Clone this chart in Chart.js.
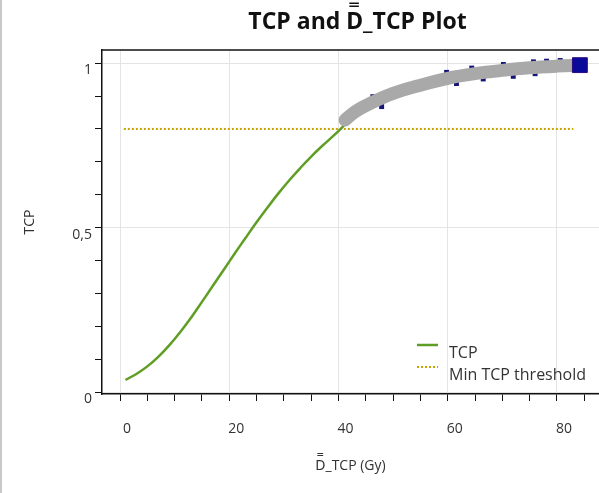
<!DOCTYPE html>
<html>
<head>
<meta charset="utf-8">
<script src="https://cdn.jsdelivr.net/npm/chart.js@4.4.1/dist/chart.umd.min.js"></script>
<style>
  html, body { margin: 0; padding: 0; background: #fff; }
  #wrap { width: 599px; height: 493px; }
</style>
</head>
<body>
<div id="wrap"><canvas id="tcp-chart" width="599" height="493"></canvas></div>
<script>
// TCP curve (green)
const tcpDose = [1, 3, 5, 7, 9, 11, 13, 15, 17, 19, 21, 23, 25, 27, 29, 31, 33, 35, 37, 39, 41];
const tcpValues = [0.037, 0.055, 0.078, 0.107, 0.142, 0.182, 0.226, 0.274, 0.323, 0.372, 0.421, 0.469, 0.516, 0.561, 0.604, 0.644, 0.681, 0.716, 0.748, 0.778, 0.81];

// grey band of candidate plans above threshold
const bandDose = [41.2, 43, 46, 50, 55, 60, 65, 70, 75, 80, 84.2];
const bandValues = [0.827, 0.852, 0.879, 0.908, 0.933, 0.954, 0.968, 0.978, 0.986, 0.991, 0.994];

// small dark-blue markers peeking out of the band
const markerDose = [41.2, 46.3, 47.9, 59.8, 61.6, 64.4, 66.5, 70.2, 72.0, 75.7, 76.0, 78.1, 80.6];
const markerValues = [0.827, 0.898, 0.868, 0.972, 0.938, 0.985, 0.952, 0.996, 0.96, 1.004, 0.968, 1.006, 1.008];

// selected point (big square)
const bestDose = [84.2];
const bestValues = [0.994];

// minimum TCP threshold line
const thresholdDose = [0.7, 83];
const thresholdValue = 0.8;

const titleText = 'TCP and D\u033F_TCP Plot';
const xTitle = 'D\u033F_TCP (Gy)';
const yTitle = 'TCP';
const legendLabels = ['TCP', 'Min TCP threshold'];

const tcpColor = '#5f9e24';
const thresholdColor = '#c8a200';
const fontFamily = '"Open Sans", "Noto Sans", sans-serif';

function toXY(xs, ys) {
    return xs.map((x, i) => ({ x: x, y: Array.isArray(ys) ? ys[i] : ys }));
}

// no inner padding on the scales, so the plot box fills the canvas edge to edge
function noScalePadding(scale) {
    scale.paddingLeft = 0;
    scale.paddingRight = 0;
    scale.paddingTop = 0;
    scale.paddingBottom = 0;
}

const decorPlugin = {
    id: 'decor',
    beforeDraw(chart) {
        const ctx = chart.ctx;
        ctx.save();
        ctx.fillStyle = '#fff';
        ctx.fillRect(0, 0, chart.width, chart.height);
        ctx.fillStyle = '#c9c9c9';
        ctx.fillRect(0, 0, 2, chart.height);
        ctx.restore();
    },
    afterDraw(chart) {
        const ctx = chart.ctx;
        const a = chart.chartArea;
        ctx.save();
        // top border of the plot box
        ctx.strokeStyle = '#111';
        ctx.lineWidth = 1.5;
        ctx.beginPath();
        ctx.moveTo(a.left, a.top);
        ctx.lineTo(a.right, a.top);
        ctx.stroke();

        // title
        ctx.fillStyle = '#111';
        ctx.font = 'bold 23px ' + fontFamily;
        ctx.textAlign = 'center';
        ctx.textBaseline = 'middle';
        ctx.fillText(titleText, (a.left + a.right) / 2 + 7, 22);

        // legend inside the plot
        const lx = a.right - 182;
        const rows = [a.bottom - 49, a.bottom - 27];
        ctx.lineWidth = 2.5;
        ctx.strokeStyle = tcpColor;
        ctx.beginPath();
        ctx.moveTo(lx, rows[0]);
        ctx.lineTo(lx + 21, rows[0]);
        ctx.stroke();
        ctx.lineWidth = 2;
        ctx.strokeStyle = thresholdColor;
        ctx.setLineDash([2, 2]);
        ctx.beginPath();
        ctx.moveTo(lx, rows[1]);
        ctx.lineTo(lx + 21, rows[1]);
        ctx.stroke();
        ctx.setLineDash([]);
        ctx.fillStyle = '#333';
        ctx.font = '16px ' + fontFamily;
        ctx.textAlign = 'left';
        ctx.fillText(legendLabels[0], lx + 32, rows[0] + 8);
        ctx.fillText(legendLabels[1], lx + 32, rows[1] + 8);
        ctx.restore();
    }
};

const tickFont = { family: fontFamily, size: 14 };

new Chart(document.getElementById('tcp-chart').getContext('2d'), {
    type: 'line',
    data: {
        datasets: [
            {
                label: 'best',
                data: toXY(bestDose, bestValues),
                showLine: false,
                pointStyle: 'rect',
                pointRadius: 10.5,
                backgroundColor: '#0a0a9a',
                borderColor: '#2a0a80',
                borderWidth: 1,
                order: 0
            },
            {
                label: 'band',
                data: toXY(bandDose, bandValues),
                borderColor: '#a9a9a9',
                borderWidth: 13,
                borderCapStyle: 'round',
                borderJoinStyle: 'round',
                cubicInterpolationMode: 'monotone',
                pointRadius: 0,
                fill: false,
                order: 1
            },
            {
                label: 'markers',
                data: toXY(markerDose, markerValues),
                showLine: false,
                pointStyle: 'rect',
                pointRadius: 3.5,
                backgroundColor: '#14147a',
                borderColor: '#14147a',
                borderWidth: 0,
                order: 2
            },
            {
                label: legendLabels[0],
                data: toXY(tcpDose, tcpValues),
                borderColor: tcpColor,
                borderWidth: 2.5,
                tension: 0.4,
                pointRadius: 0,
                fill: false,
                order: 3
            },
            {
                label: legendLabels[1],
                data: toXY(thresholdDose, thresholdValue),
                borderColor: thresholdColor,
                borderWidth: 2,
                borderDash: [2, 2],
                pointRadius: 0,
                fill: false,
                order: 4
            }
        ]
    },
    options: {
        responsive: false,
        animation: false,
        layout: { autoPadding: false, padding: { top: 50, left: 0, right: 0, bottom: 0 } },
        plugins: {
            legend: { display: false },
            title: { display: false },
            tooltip: { enabled: false }
        },
        scales: {
            x: {
                type: 'linear',
                min: -3.3,
                max: 87.7,
                afterFit: function(scale) {
                    scale.height = 99;
                    noScalePadding(scale);
                },
                ticks: {
                    stepSize: 5,
                    includeBounds: false,
                    autoSkip: false,
                    maxRotation: 0,
                    padding: 20,
                    labelOffset: 7,
                    color: '#333',
                    font: tickFont,
                    callback: function(value) {
                        return value % 20 === 0 ? String(value) : '';
                    }
                },
                grid: {
                    color: function(c) {
                        return c.tick && c.tick.value % 20 === 0 ? '#e4e4e4' : 'rgba(0,0,0,0)';
                    },
                    tickColor: '#111',
                    tickLength: 7,
                    lineWidth: 1
                },
                border: { color: '#111', width: 1.5 },
                title: {
                    display: true,
                    text: xTitle,
                    color: '#333',
                    font: tickFont,
                    padding: { top: 0, bottom: 19 }
                }
            },
            y: {
                type: 'linear',
                min: -0.006,
                max: 1.04,
                afterFit: function(scale) {
                    scale.width = 102;
                    noScalePadding(scale);
                },
                ticks: {
                    stepSize: 0.1,
                    includeBounds: false,
                    autoSkip: false,
                    padding: 3,
                    labelOffset: 7,
                    color: '#333',
                    font: tickFont,
                    callback: function(value) {
                        const half = value * 2;
                        if (Math.abs(half - Math.round(half)) > 1e-6) return '';
                        return String(Math.round(half) / 2).replace('.', ',');
                    }
                },
                grid: {
                    color: function(c) {
                        if (!c.tick) return 'rgba(0,0,0,0)';
                        const half = c.tick.value * 2;
                        return Math.abs(half - Math.round(half)) < 1e-6 ? '#e4e4e4' : 'rgba(0,0,0,0)';
                    },
                    tickColor: '#111',
                    tickLength: 7,
                    lineWidth: 1
                },
                border: { color: '#111', width: 1.5 },
                title: {
                    display: true,
                    text: yTitle,
                    color: '#333',
                    font: tickFont,
                    padding: { top: 22, bottom: 0 }
                }
            }
        }
    },
    plugins: [decorPlugin]
});
</script>
</body>
</html>
